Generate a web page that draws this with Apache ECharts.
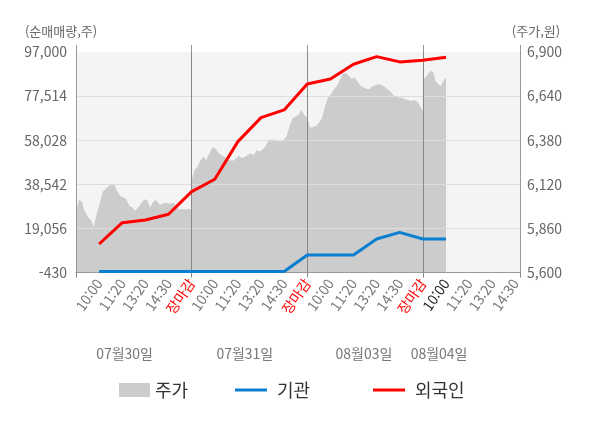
<!DOCTYPE html>
<html lang="ko">
<head>
    <meta charset="UTF-8">
    <title>수급 차트</title>
    <script src="https://cdn.jsdelivr.net/npm/echarts@6.0.0/dist/echarts.min.js"></script>
    <style>
        html, body { margin: 0; padding: 0; background: #fff; }
    </style>
</head>
<body>
<div id="main" style="width:600px;height:428px;"></div>
<script type="text/javascript">
    // x 라벨 (하루 5칸: 10:00, 11:20, 13:20, 14:30, 장마감)
    var timeLabels = ['10:00', '11:20', '13:20', '14:30', '장마감',
                      '10:00', '11:20', '13:20', '14:30', '장마감',
                      '10:00', '11:20', '13:20', '14:30', '장마감',
                      '10:00', '11:20', '13:20', '14:30'];
    var dateLabels = ['07월30일', '07월31일', '08월03일', '08월04일'];
    var datePos = [2.1, 7.3, 12.45, 15.7];

    // 누적 순매매량 (주)
    var foreignVals = [12166, 21579, 22771, 25291, 35283, 40765, 57388, 67998, 71403,
                       82897, 85108, 91606, 94966, 92623, 93375, 94701];
    var instVals = [0, 0, 0, 0, 0, 0, 0, 0, 0, 7300, 7300, 7300, 14400, 17300, 14400, 14400];

    // 주가 (원), 일자별
    var priceDay1 = [5960, 6028, 6017, 5958, 5928, 5909, 5869, 5948, 6007, 6076, 6092, 6110, 6120, 6115,
                     6076, 6050, 6043, 6031, 5991, 5984, 5964, 5984, 6007, 6031, 6028, 5984, 6017, 6028,
                     6003, 6003, 6011, 6007, 6007, 6011, 5984, 5972, 5974, 5972, 5976, 5968];
    var priceDay2 = [6145, 6204, 6223, 6263, 6283, 6263, 6303, 6338, 6332, 6306, 6293, 6283, 6273, 6263,
                     6259, 6273, 6287, 6273, 6283, 6293, 6303, 6293, 6322, 6312, 6326, 6346, 6381, 6385,
                     6381, 6377, 6371, 6381, 6401, 6460, 6509, 6519, 6529, 6558, 6529, 6509];
    var priceDay3 = [6513, 6454, 6460, 6464, 6483, 6513, 6582, 6631, 6651, 6680, 6700, 6735, 6769, 6778,
                     6759, 6743, 6749, 6724, 6700, 6690, 6684, 6680, 6700, 6704, 6710, 6705, 6696, 6680,
                     6670, 6645, 6637, 6631, 6631, 6621, 6617, 6611, 6617, 6611, 6582, 6552];
    var priceDay4 = [6740, 6749, 6770, 6789, 6780, 6729, 6710, 6700, 6729, 6749];
    var daySpan = [5, 5, 5, 1];

    function commas(v) {
        return Number(v).toLocaleString('en-US');
    }

    var priceData = [];
    [priceDay1, priceDay2, priceDay3, priceDay4].forEach(function (arr, d) {
        for (var i = 0; i < arr.length; i++) {
            priceData.push([d * 5 + i / (arr.length - 1) * daySpan[d], arr[i]]);
        }
    });
    function toPairs(vals) {
        return vals.map(function (v, i) { return [i + 1, v]; });
    }

    var xMax = 19.2;
    var myChart = echarts.init(document.getElementById('main'));
    var font = 'Noto Sans CJK KR';
    option = {
        animation: false,
        textStyle: { fontFamily: font },
        grid: {
            left: 76, right: 80, top: 52, bottom: 155.5,
            show: true, backgroundColor: '#f4f4f4', borderWidth: 0
        },
        legend: [
            { data: ['주가'], left: 114, top: 376, icon: 'rect', itemWidth: 31, itemHeight: 14,
              textStyle: { fontSize: 18, color: '#333', fontFamily: font }, selectedMode: false },
            { data: ['기관'], left: 230, top: 376, icon: 'rect', itemWidth: 32, itemHeight: 3,
              textStyle: { fontSize: 18, color: '#333', fontFamily: font, padding: [0, 0, 0, 5] }, selectedMode: false },
            { data: ['외국인'], left: 368, top: 376, icon: 'rect', itemWidth: 32, itemHeight: 3,
              textStyle: { fontSize: 18, color: '#333', fontFamily: font, padding: [0, 0, 0, 5] }, selectedMode: false }
        ],
        xAxis: [
            {
                type: 'value', min: 0, max: xMax, interval: 1, position: 'bottom', z: 2,
                axisLine: { show: true, onZero: false, lineStyle: { color: '#999' } },
                axisTick: { show: false },
                splitLine: { show: false },
                axisLabel: {
                    rotate: 55, fontSize: 14, color: '#777', margin: 8, fontFamily: font,
                    formatter: function (v) {
                        if (v < 1 || Math.round(v) !== v || !timeLabels[v - 1]) return '';
                        var t = timeLabels[v - 1];
                        if (t === '장마감') return '{r|' + t + '}';
                        if (v === 16) return '{k|' + t + '}';
                        return t;
                    },
                    rich: {
                        r: { color: '#ff0000', fontSize: 14, fontFamily: font },
                        k: { color: '#222', fontSize: 14, fontFamily: font }
                    }
                }
            },
            {
                type: 'value', min: 0, max: xMax, interval: 5, position: 'bottom', z: 2,
                axisLine: { show: false, onZero: false },
                axisTick: { show: true, length: 5, lineStyle: { color: '#888' } },
                axisLabel: { show: false },
                splitLine: { show: true, lineStyle: { color: '#888', width: 1 } }
            },
            {
                type: 'value', min: 0, max: xMax, position: 'bottom',
                axisLine: { show: false, onZero: false },
                axisTick: { show: false },
                splitLine: { show: false },
                axisLabel: {
                    customValues: datePos, margin: 74, fontSize: 14, color: '#777', fontFamily: font,
                    formatter: function (v) {
                        var i = datePos.indexOf(v);
                        return i >= 0 ? dateLabels[i] : '';
                    }
                }
            },
            {
                // 상단으로 살짝 튀어나온 구분선
                type: 'value', min: 0, max: xMax, interval: 5, position: 'top', z: 2,
                axisLine: { show: false, onZero: false },
                axisTick: { show: true, length: 7, lineStyle: { color: '#999' } },
                axisLabel: { show: false },
                splitLine: { show: false }
            }
        ],
        yAxis: [
            {
                type: 'value', min: -430, max: 97000, interval: 19486, z: 2,
                name: '(순매매량,주)', nameLocation: 'end', nameGap: 14,
                nameTextStyle: { color: '#666', fontSize: 13, align: 'center', padding: [0, 30, 0, 0], fontFamily: font },
                axisLine: { show: true, onZero: false, lineStyle: { color: '#999' } },
                axisTick: { show: false },
                axisLabel: { color: '#666', fontSize: 14, margin: 9, fontFamily: font, formatter: commas },
                splitLine: { show: true, showMaxLine: false, lineStyle: { color: '#dddddd' } }
            },
            {
                type: 'value', min: 5600, max: 6900, interval: 260, position: 'right', z: 2,
                name: '(주가,원)', nameLocation: 'end', nameGap: 14,
                nameTextStyle: { color: '#666', fontSize: 13, align: 'center', padding: [0, 0, 0, 32], fontFamily: font },
                axisLine: { show: true, onZero: false, lineStyle: { color: '#999' } },
                axisTick: { show: false },
                axisLabel: { color: '#666', fontSize: 14, margin: 7, fontFamily: font, formatter: commas },
                splitLine: { show: false }
            }
        ],
        series: [
            {
                name: '주가', type: 'line', xAxisIndex: 0, yAxisIndex: 1,
                data: priceData, showSymbol: false,
                itemStyle: { color: '#cccccc' },
                lineStyle: { color: '#cccccc', width: 0 },
                areaStyle: { color: '#cccccc', opacity: 1, origin: 'start' },
                z: 1
            },
            {
                name: '기관', type: 'line', xAxisIndex: 0, yAxisIndex: 0,
                data: toPairs(instVals), showSymbol: false,
                itemStyle: { color: '#0a7fd0' },
                lineStyle: { color: '#0a7fd0', width: 3 },
                z: 3
            },
            {
                name: '외국인', type: 'line', xAxisIndex: 0, yAxisIndex: 0,
                data: toPairs(foreignVals), showSymbol: false,
                itemStyle: { color: '#ff0000' },
                lineStyle: { color: '#ff0000', width: 3 },
                z: 4
            }
        ]
    };
    myChart.setOption(option);
</script>
</body>
</html>
